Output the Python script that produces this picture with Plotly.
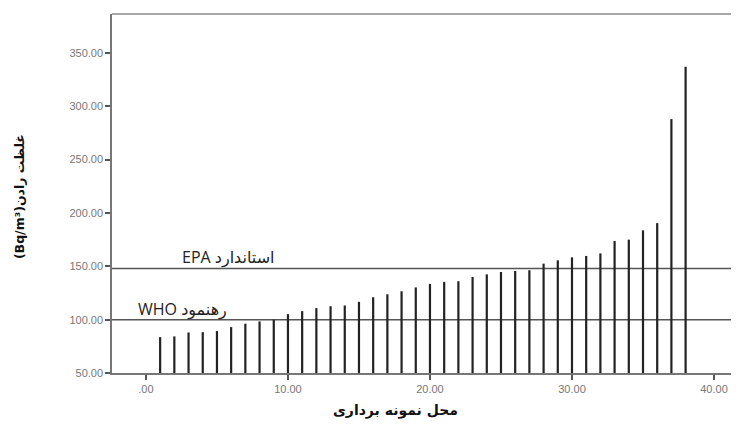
import plotly.graph_objects as go

# ---- data ----
sites = list(range(1, 39))
radon = [83.6, 84.3, 88, 88.3, 89.3, 93, 96.2, 98.3, 99.9, 105.2,
         108, 110.8, 112.6, 113.3, 116.7, 121, 123.8, 126.6, 130.2, 133.5,
         135.4, 136, 140, 142.5, 144.7, 145.6, 146.3, 152.5, 155.6, 158.4,
         159.7, 162.1, 173.7, 175, 183.7, 190.5, 288, 337]
EPA_LIMIT = 148
WHO_LIMIT = 100
EPA_LABEL = "EPA استاندارد"
WHO_LABEL = "WHO رهنمود"
x_tickvals = [0, 10, 20, 30, 40]
x_ticktext = [".00", "10.00", "20.00", "30.00", "40.00"]
y_tickvals = [50, 100, 150, 200, 250, 300, 350]
y_ticktext = ["50.00", "100.00", "150.00", "200.00", "250.00", "300.00", "350.00"]
x_title = "محل نمونه برداری"
y_title = "(Bq/m³)غلظت رادن"
BASE = 50

# build drop lines from data
xs, ys = [], []
for s, v in zip(sites, radon):
    xs += [s, s, None]
    ys += [BASE, v, None]

fig = go.Figure()
fig.add_trace(go.Scatter(x=xs, y=ys, mode="lines",
                         line=dict(color="#222222", width=2.2),
                         hoverinfo="skip", showlegend=False))

for lim in (EPA_LIMIT, WHO_LIMIT):
    fig.add_shape(type="line", xref="paper", x0=0, x1=1, yref="y", y0=lim, y1=lim,
                  line=dict(color="#555555", width=1.5), layer="below")

# top frame line
fig.add_shape(type="line", xref="paper", x0=0, x1=1, yref="paper", y0=1, y1=1,
              line=dict(color="#8a8a8a", width=1.5))

label_font = dict(family="Open Sans, DejaVu Sans, sans-serif", size=16, color="#222222")
fig.add_annotation(x=5.8, y=EPA_LIMIT, yshift=11, text=EPA_LABEL, showarrow=False,
                   font=label_font, xanchor="center", yanchor="middle")
fig.add_annotation(x=2.6, y=WHO_LIMIT, yshift=11, text=WHO_LABEL, showarrow=False,
                   font=label_font, xanchor="center", yanchor="middle")

fig.add_annotation(xref="paper", yref="paper", x=(395 - 112) / 627, y=-0.105,
                   text="<b>" + x_title + "</b>", showarrow=False,
                   font=dict(family="DejaVu Serif, DejaVu Sans, serif", size=14, color="#111111"),
                   xanchor="center", yanchor="middle")
fig.add_annotation(xref="paper", yref="paper", x=(19 - 112) / 627, y=0.49,
                   text="<b>" + y_title + "</b>", showarrow=False, textangle=-90,
                   font=dict(family="DejaVu Sans, sans-serif", size=12.5, color="#111111"),
                   xanchor="center", yanchor="middle")

tickfont = dict(family="Liberation Sans, Arial, sans-serif", size=11, color="#777777")
fig.update_xaxes(range=[-2.39, 41.76], tickvals=x_tickvals, ticktext=x_ticktext,
                 ticks="outside", ticklen=5, tickwidth=1.5, tickcolor="#555555",
                 showline=True, linecolor="#777777", linewidth=1.5,
                 showgrid=False, zeroline=False, tickfont=tickfont, automargin=False)
fig.update_yaxes(range=[50, 386.5], tickvals=y_tickvals, ticktext=y_ticktext,
                 ticks="outside", ticklen=5, tickwidth=1.5, tickcolor="#555555",
                 showline=True, linecolor="#777777", linewidth=1.5,
                 showgrid=False, zeroline=False, tickfont=tickfont, automargin=False)

# page body has an 8px offset; size the figure so it fits the window exactly
fig.update_layout(width=731, height=419,
                  margin=dict(l=104, r=0, t=6, b=54),
                  plot_bgcolor="white", paper_bgcolor="white")

fig.write_html("out.html")
